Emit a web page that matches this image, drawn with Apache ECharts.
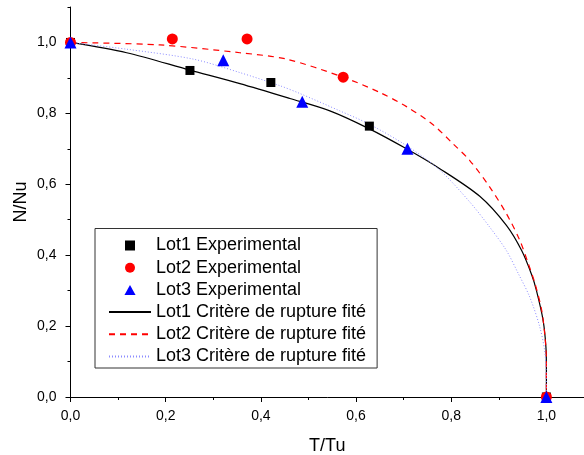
<!DOCTYPE html>
<html>
<head>
<meta charset="utf-8">
<script src="https://cdn.jsdelivr.net/npm/echarts@6/dist/echarts.min.js"></script>
<style>
html,body{margin:0;padding:0;background:#fff;}
#chart{width:584px;height:455px;}
</style>
</head>
<body>
<div id="chart"></div>
<script>
// ---- data ----
var seriesNames = [
  'Lot1 Experimental', 'Lot2 Experimental', 'Lot3 Experimental',
  'Lot1 Critère de rupture fité', 'Lot2 Critère de rupture fité', 'Lot3 Critère de rupture fité'
];
var xTickValues = [0, 0.2, 0.4, 0.6, 0.8, 1.0];
var yTickValues = [0, 0.2, 0.4, 0.6, 0.8, 1.0];
var xMinorTicks = [0.1, 0.3, 0.5, 0.7, 0.9];
var yMinorTicks = [0.1, 0.3, 0.5, 0.7, 0.9, 1.1];

var lot1ExpT = [0, 0.251, 0.421, 0.628, 1.0];
var lot1ExpN = [1.0, 0.921, 0.887, 0.764, 0.0];
var lot2ExpT = [0, 0.214, 0.371, 0.573, 1.0];
var lot2ExpN = [1.0, 1.010, 1.010, 0.902, 0.0];
var lot3ExpT = [0, 0.321, 0.487, 0.708, 1.0];
var lot3ExpN = [1.0, 0.950, 0.833, 0.700, 0.0];

var lot1FitT = [0, 0.118, 0.251, 0.356, 0.461, 0.545, 0.627, 0.706, 0.776, 0.860, 0.916, 0.948, 0.969, 0.979, 0.993, 0.999, 1.0, 1.0];
var lot1FitN = [1.0, 0.971, 0.922, 0.884, 0.842, 0.807, 0.757, 0.700, 0.644, 0.566, 0.484, 0.413, 0.345, 0.301, 0.217, 0.141, 0.076, 0.0];
var lot2FitT = [0, 0.188, 0.356, 0.454, 0.573, 0.650, 0.706, 0.760, 0.804, 0.839, 0.881, 0.916, 0.944, 0.962, 0.976, 0.990, 0.997, 1.0, 1.0];
var lot2FitN = [1.0, 0.993, 0.971, 0.953, 0.902, 0.859, 0.819, 0.770, 0.714, 0.667, 0.592, 0.517, 0.442, 0.376, 0.320, 0.245, 0.170, 0.104, 0.0];
var lot3FitT = [0, 0.118, 0.258, 0.356, 0.440, 0.482, 0.566, 0.627, 0.706, 0.776, 0.839, 0.881, 0.916, 0.941, 0.965, 0.986, 0.997, 1.0, 1.0];
var lot3FitN = [1.0, 0.981, 0.953, 0.915, 0.878, 0.856, 0.807, 0.770, 0.709, 0.640, 0.550, 0.479, 0.413, 0.348, 0.282, 0.198, 0.123, 0.029, 0.0];

function pairs(xs, ys) { return xs.map(function (x, i) { return [x, ys[i]]; }); }
function fmt(v) { return v.toFixed(1).replace('.', ','); }

var FONT = 'Liberation Sans, Arial, sans-serif';
var XMAX = 1.079;

var chart = echarts.init(document.getElementById('chart'), null, {renderer: 'canvas'});

var option = {
  animation: false,
  backgroundColor: '#fff',
  grid: {left: 70.5, right: 0, top: 7, bottom: 58, containLabel: false, outerBoundsMode: 'none'},
  xAxis: [
    {
      type: 'value', min: 0, max: XMAX, interval: 0.2,
      name: 'T/Tu', nameLocation: 'middle', nameGap: 40, nameMoveOverlap: false,
      nameTextStyle: {fontFamily: FONT, fontSize: 18, color: '#000'},
      splitLine: {show: false},
      axisLine: {show: true, onZero: false, lineStyle: {color: '#000', width: 1}},
      axisTick: {show: true, length: 5, customValues: xTickValues, lineStyle: {color: '#000'}},
      axisLabel: {show: true, customValues: xTickValues, margin: 12, fontFamily: FONT, fontSize: 14, color: '#000', formatter: fmt}
    },
    {
      type: 'value', min: 0, max: XMAX, position: 'bottom',
      splitLine: {show: false},
      axisLine: {show: false},
      axisTick: {show: true, length: 3, customValues: xMinorTicks, lineStyle: {color: '#000'}},
      axisLabel: {show: false}
    }
  ],
  yAxis: [
    {
      type: 'value', min: 0, max: 1.1, interval: 0.2,
      name: 'N/Nu', nameLocation: 'middle', nameGap: 40, nameMoveOverlap: false,
      nameTextStyle: {fontFamily: FONT, fontSize: 18, color: '#000'},
      splitLine: {show: false},
      axisLine: {show: true, onZero: false, lineStyle: {color: '#000', width: 1}},
      axisTick: {show: true, length: 5, customValues: yTickValues, lineStyle: {color: '#000'}},
      axisLabel: {show: true, customValues: yTickValues, margin: 14, fontFamily: FONT, fontSize: 14, color: '#000', formatter: fmt}
    },
    {
      type: 'value', min: 0, max: 1.1, position: 'left',
      splitLine: {show: false},
      axisLine: {show: false},
      axisTick: {show: true, length: 3, customValues: yMinorTicks, lineStyle: {color: '#000'}},
      axisLabel: {show: false}
    }
  ],
  legend: {
    orient: 'vertical',
    left: 95, top: 228.5,
    backgroundColor: '#fff',
    borderColor: '#333', borderWidth: 1, borderRadius: 0,
    padding: [8, 11, 2.5, 13],
    itemWidth: 42, itemHeight: 10, itemGap: 4.2,
    symbolKeepAspect: true,
    textStyle: {fontFamily: FONT, fontSize: 18, color: '#000'},
    data: [
      {name: seriesNames[0], icon: 'path://M0,0L10,0L10,10L0,10Z'},
      {name: seriesNames[1], icon: 'circle'},
      {name: seriesNames[2], icon: 'path://M5,0L10,9L0,9Z'},
      {name: seriesNames[3], itemStyle: {opacity: 0}},
      {name: seriesNames[4], itemStyle: {opacity: 0}},
      {name: seriesNames[5], itemStyle: {opacity: 0}}
    ]
  },
  series: [
    {name: seriesNames[0], type: 'scatter', z: 5, symbol: 'rect', symbolSize: 9,
     itemStyle: {color: '#000', opacity: 1}, data: pairs(lot1ExpT, lot1ExpN)},
    {name: seriesNames[1], type: 'scatter', z: 5, symbol: 'circle', symbolSize: 11,
     itemStyle: {color: '#ff0000', opacity: 1}, data: pairs(lot2ExpT, lot2ExpN)},
    {name: seriesNames[2], type: 'scatter', z: 5, symbol: 'triangle', symbolSize: 12,
     itemStyle: {color: '#0000ff', opacity: 1}, data: pairs(lot3ExpT, lot3ExpN)},
    {name: seriesNames[3], type: 'line', z: 3, symbol: 'none', showSymbol: false,
     smooth: 0.3,
     itemStyle: {color: '#000'}, lineStyle: {color: '#000', width: 1.2, type: 'solid'},
     data: pairs(lot1FitT, lot1FitN)},
    {name: seriesNames[4], type: 'line', z: 3, symbol: 'none', showSymbol: false,
     smooth: 0.3,
     itemStyle: {color: '#ff0000'}, lineStyle: {color: '#ff0000', width: 1.2, type: [6, 5]},
     data: pairs(lot2FitT, lot2FitN)},
    {name: seriesNames[5], type: 'line', z: 3, symbol: 'none', showSymbol: false,
     smooth: 0.3,
     itemStyle: {color: '#8c8cff'}, lineStyle: {color: '#8c8cff', width: 1, type: [1, 2]},
     data: pairs(lot3FitT, lot3FitN)}
  ]
};
chart.setOption(option);
</script>
</body>
</html>
